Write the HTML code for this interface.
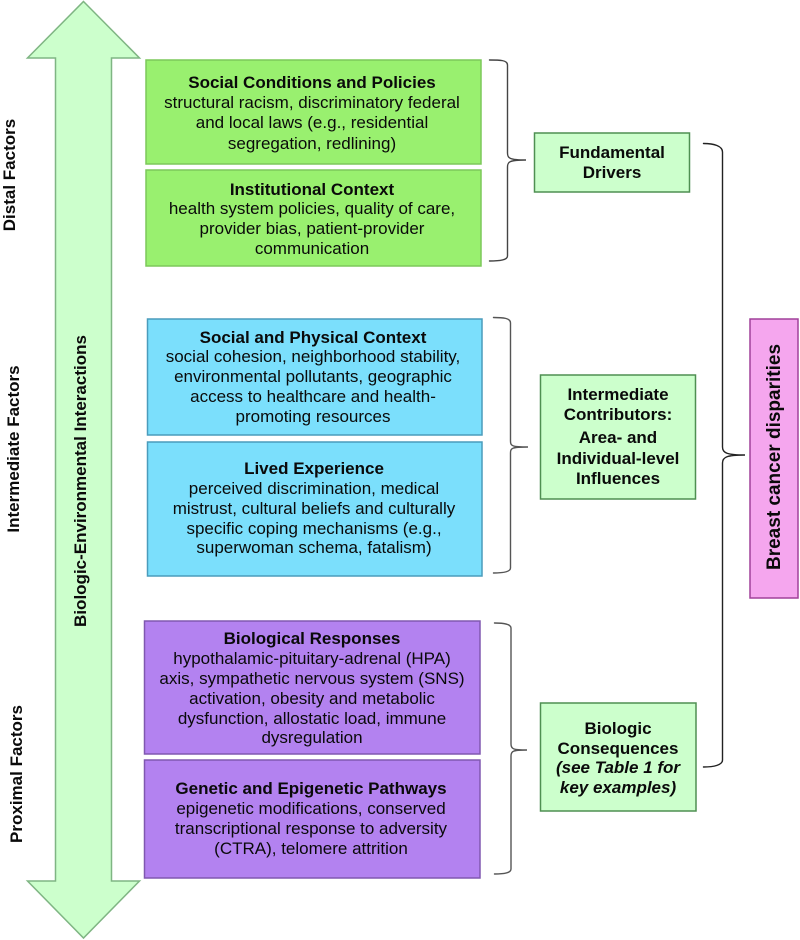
<!DOCTYPE html>
<html>
<head>
<meta charset="utf-8">
<style>
html,body{margin:0;padding:0;background:#fff}
svg{display:block;filter:blur(0.35px)}
text{font-family:"Liberation Sans",sans-serif;fill:#0a0a0a;text-anchor:middle;font-size:17px}
.b{font-weight:bold}
.i{font-weight:bold;font-style:italic}
.s{font-size:17px;font-weight:bold}
</style>
</head>
<body>
<svg width="800" height="940" viewBox="0 0 800 940" xmlns="http://www.w3.org/2000/svg">
<polygon points="83.500,1.500 139.500,58 111.500,58 111.500,881 139.500,881 83.500,938 27.500,881 55.500,881 55.500,58 27.500,58" fill="#ccffcc" stroke="#7fb583" stroke-width="1.500"/>

<rect x="146" y="60" width="335" height="104" fill="#99f06f" stroke="#7cc85a" stroke-width="1.500"/>
<rect x="146" y="170" width="335" height="96" fill="#99f06f" stroke="#7cc85a" stroke-width="1.500"/>
<rect x="147.500" y="319" width="334.500" height="116" fill="#7bdffc" stroke="#4a9cbc" stroke-width="1.500"/>
<rect x="147.500" y="442" width="334.500" height="134" fill="#7bdffc" stroke="#4a9cbc" stroke-width="1.500"/>
<rect x="144.500" y="621" width="335.500" height="133" fill="#b382f0" stroke="#8058b0" stroke-width="1.500"/>
<rect x="144.500" y="760" width="335.500" height="118" fill="#b382f0" stroke="#8058b0" stroke-width="1.500"/>

<rect x="534.500" y="133" width="155" height="59" fill="#ccffcc" stroke="#4f8f52" stroke-width="1.500"/>
<rect x="540.500" y="375" width="155" height="124" fill="#ccffcc" stroke="#4f8f52" stroke-width="1.500"/>
<rect x="540.500" y="703" width="155.500" height="108" fill="#ccffcc" stroke="#4f8f52" stroke-width="1.500"/>
<rect x="750" y="319" width="48" height="279" fill="#f5a6ee" stroke="#a0409a" stroke-width="1.500"/>

<g fill="none" stroke-width="1.400" stroke-linecap="round">
<path d="M489.500 60 C500 60 507.500 60 507.500 65 L507.500 153 C507.500 158 509 160 526 160 C509 160 507.500 162 507.500 167 L507.500 256 C507.500 260 500 261 489.500 261" stroke="#444"/>
<path d="M493.500 317.500 C503 317.500 510.500 318 510.500 323 L510.500 441 C510.500 446 512 447 528 447 C512 447 510.500 448 510.500 453 L510.500 568 C510.500 572 503 573 493.500 573" stroke="#555"/>
<path d="M494.500 623 C504 623 511 624 511 628 L511 744 C511 749 513 750 527 750 C513 750 511 751 511 756 L511 869 C511 873 504 874 494.500 874" stroke="#555"/>
<path d="M703.500 143.500 C714 143.500 722.500 146 722.500 152 L722.500 447 C722.500 453 727 455 745 455 C727 455 722.500 457 722.500 463 L722.500 760 C722.500 765 714 767 703.500 767" stroke="#222"/>
</g>

<text class="b" x="312" y="88">Social Conditions and Policies</text>
<text x="312" y="108">structural racism, discriminatory federal</text>
<text x="312" y="128">and local laws (e.g., residential</text>
<text x="312" y="149">segregation, redlining)</text>

<text class="b" x="312" y="195">Institutional Context</text>
<text x="312" y="214">health system policies, quality of care,</text>
<text x="312" y="234">provider bias, patient-provider</text>
<text x="312" y="254">communication</text>

<text class="b" x="313" y="343">Social and Physical Context</text>
<text x="313" y="362">social cohesion, neighborhood stability,</text>
<text x="313" y="382">environmental pollutants, geographic</text>
<text x="313" y="402">access to healthcare and health-</text>
<text x="313" y="422">promoting resources</text>

<text class="b" x="314" y="474">Lived Experience</text>
<text x="314" y="494">perceived discrimination, medical</text>
<text x="314" y="514">mistrust, cultural beliefs and culturally</text>
<text x="314" y="534">specific coping mechanisms (e.g.,</text>
<text x="314" y="553">superwoman schema, fatalism)</text>

<text class="b" x="312" y="644">Biological Responses</text>
<text x="312" y="664">hypothalamic-pituitary-adrenal (HPA)</text>
<text x="312" y="684">axis, sympathetic nervous system (SNS)</text>
<text x="312" y="704">activation, obesity and metabolic</text>
<text x="312" y="724">dysfunction, allostatic load, immune</text>
<text x="312" y="743">dysregulation</text>

<text class="b" x="311" y="794">Genetic and Epigenetic Pathways</text>
<text x="311" y="814">epigenetic modifications, conserved</text>
<text x="311" y="834">transcriptional response to adversity</text>
<text x="311" y="854">(CTRA), telomere attrition</text>

<text class="s" x="612" y="158">Fundamental</text>
<text class="s" x="612" y="178">Drivers</text>

<text class="s" x="618" y="400">Intermediate</text>
<text class="s" x="618" y="420">Contributors:</text>
<text class="s" x="618" y="443">Area- and</text>
<text class="s" x="618" y="464">Individual-level</text>
<text class="s" x="618" y="484">Influences</text>

<text class="s" x="618" y="734">Biologic</text>
<text class="s" x="618" y="754">Consequences</text>
<text class="i" x="618" y="773">(see Table 1 for</text>
<text class="i" x="618" y="793">key examples)</text>

<text class="b" transform="translate(15,175) rotate(-90)">Distal Factors</text>
<text class="b" transform="translate(19,449) rotate(-90)">Intermediate Factors</text>
<text class="b" transform="translate(22,774) rotate(-90)">Proximal Factors</text>
<text class="b" transform="translate(86,481) rotate(-90)">Biologic-Environmental Interactions</text>
<text class="b" style="font-size:19px" transform="translate(780,457) rotate(-90)">Breast cancer disparities</text>
</svg>
</body>
</html>
